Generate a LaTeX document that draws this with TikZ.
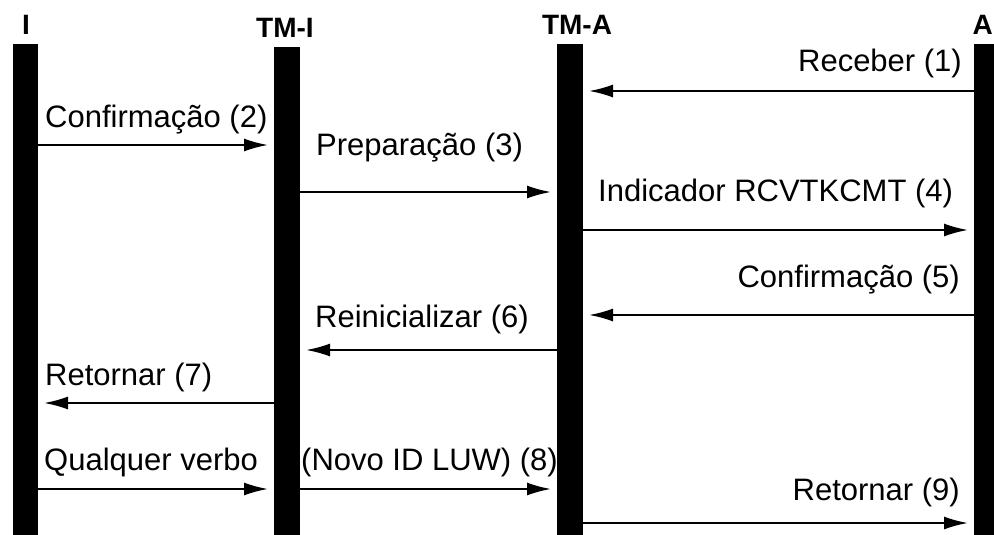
\documentclass[tikz,border=0pt]{standalone}
\usepackage{fontspec}
\setmainfont{Liberation Sans}
\usetikzlibrary{arrows.meta}
\begin{document}
\begin{tikzpicture}[x=1pt,y=-1pt,
  lifeline/.style={fill=black, draw=none, inner sep=0pt, outer sep=0pt,
    minimum width=26pt, anchor=north},
  actor/.style={font=\fontsize{28}{30}\selectfont\bfseries, inner sep=0pt, anchor=base},
  msg/.style={line width=2pt, -{Latex[length=24pt,width=13pt]}, shorten >=6pt},
  lbl/.style={font=\fontsize{31}{36}\selectfont, inner sep=0pt}]
\useasboundingbox (0,0) rectangle (994,535);
\clip (0,0) rectangle (994,535);

% lifelines
\node[lifeline, minimum width=25pt, minimum height=491pt] (I)   at (25.5,44) {};
\node[lifeline, minimum height=488pt] (TMI) at (287,47) {};
\node[lifeline, minimum height=491pt] (TMA) at (570,44) {};
\node[lifeline, minimum height=491pt] (A)   at (987,44) {};

% participant names
\node[actor] (nI)   at (26,35)  {I};
\node[actor] (nTMI) at (285,38) {TM-I};
\node[actor] (nTMA) at (577,35) {TM-A};
\node[actor, anchor=base east] (nA) at (993,35) {A};

% messages
\draw[msg] (A.west |- 0,91)    -- (TMA.east |- 0,91);
\node[lbl, anchor=base east] (m1) at (962,72) {Receber (1)};

\draw[msg] (I.east |- 0,145)   -- (TMI.west |- 0,145);
\node[lbl, anchor=base west] (m2) at (45,128) {Confirmação (2)};

\draw[msg] (TMI.east |- 0,192) -- (TMA.west |- 0,192);
\node[lbl, anchor=base west] (m3) at (316,155) {Preparação (3)};

\draw[msg] (TMA.east |- 0,230) -- (A.west |- 0,230);
\node[lbl, anchor=base west] (m4) at (598,201) {Indicador RCVTKCMT (4)};

\draw[msg] (A.west |- 0,315)   -- (TMA.east |- 0,315);
\node[lbl, anchor=base east] (m5) at (960,287) {Confirmação (5)};

\draw[msg] (TMA.west |- 0,350) -- (TMI.east |- 0,350);
\node[lbl, anchor=base west] (m6) at (315,327) {Reinicializar (6)};

\draw[msg] (TMI.west |- 0,403) -- (I.east |- 0,403);
\node[lbl, anchor=base west] (m7) at (45,385) {Retornar (7)};

\draw[msg] (I.east |- 0,489)   -- (TMI.west |- 0,489);
\node[lbl, anchor=base west] (m8a) at (44,470) {Qualquer verbo};

\draw[msg] (TMI.east |- 0,489) -- (TMA.west |- 0,489);
\node[lbl, anchor=base west] (m8b) at (301,470) {(Novo ID LUW) (8)};

\draw[msg] (TMA.east |- 0,523) -- (A.west |- 0,523);
\node[lbl, anchor=base east] (m9) at (960,500) {Retornar (9)};
\end{tikzpicture}
\end{document}
